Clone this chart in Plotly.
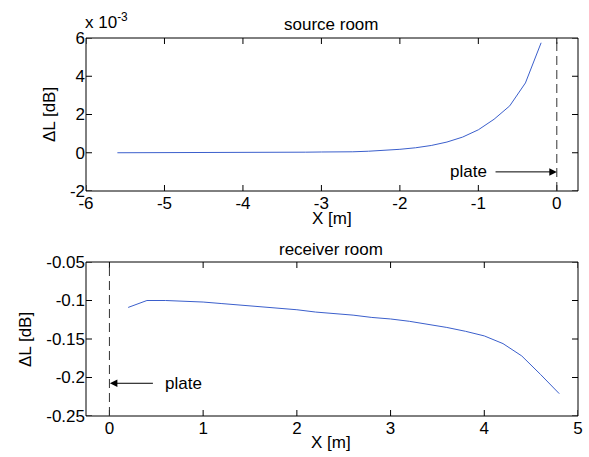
import plotly.graph_objects as go

# source room (x in m, dL in units of 1e-3 dB)
src_x = [-5.6, -5.4, -5.2, -5.0, -4.8, -4.6, -4.4, -4.2, -4.0, -3.8, -3.6, -3.4, -3.2, -3.0,
         -2.8, -2.6, -2.4, -2.2, -2.0, -1.8, -1.6, -1.4, -1.2, -1.0, -0.8, -0.6, -0.4, -0.2]
src_y = [0, 0, 0, 0, 0, 0, 0, 0, 0, 0, 0.0, 0.03, 0.03, 0.04,
         0.04, 0.05, 0.08, 0.12, 0.18, 0.26, 0.38, 0.56, 0.82, 1.2, 1.75, 2.45, 3.65, 5.75]

# receiver room
rec_x = [0.2, 0.4, 0.6, 0.8, 1.0, 1.2, 1.4, 1.6, 1.8, 2.0, 2.2, 2.4, 2.6, 2.8, 3.0,
         3.2, 3.4, 3.6, 3.8, 4.0, 4.2, 4.4, 4.6, 4.8]
rec_y = [-0.109, -0.100, -0.100, -0.101, -0.102, -0.104, -0.106, -0.108, -0.110, -0.112,
         -0.115, -0.117, -0.119, -0.122, -0.124, -0.127, -0.131, -0.135, -0.140, -0.146,
         -0.156, -0.172, -0.196, -0.221]

top_xticks = [-6, -5, -4, -3, -2, -1, 0]
top_xlabels = ["-6", "-5", "-4", "-3", "-2", "-1", "0"]
top_yticks = [-2, 0, 2, 4, 6]
top_ylabels = ["-2", "0", "2", "4", "6"]
bot_xticks = [0, 1, 2, 3, 4, 5]
bot_xlabels = ["0", "1", "2", "3", "4", "5"]
bot_yticks = [-0.25, -0.2, -0.15, -0.1, -0.05]
bot_ylabels = ["-0.25", "-0.2", "-0.15", "-0.1", "-0.05"]

TOP_XR = [-6, 0.27]
TOP_YR = [-2, 6]
BOT_XR = [-0.25, 5]
BOT_YR = [-0.25, -0.05]

W, H = 589, 457
def px_x(p): return p / W
def px_y(p): return 1 - p / H

FONT = "Liberation Sans"
LINE = "#3b5fcc"

fig = go.Figure()
fig.add_trace(go.Scatter(x=src_x, y=src_y, mode="lines", line=dict(color=LINE, width=1),
                         xaxis="x", yaxis="y", showlegend=False, hoverinfo="skip"))
fig.add_trace(go.Scatter(x=rec_x, y=rec_y, mode="lines", line=dict(color=LINE, width=1),
                         xaxis="x2", yaxis="y2", showlegend=False, hoverinfo="skip"))

axcommon = dict(showline=False, ticks="", showgrid=False, zeroline=False,
                tickfont=dict(family=FONT, size=17, color="black"))

XD = [px_x(86), px_x(578)]
TYD = [px_y(191), px_y(38)]
BYD = [px_y(416), px_y(262)]

fig.update_layout(
    template="none",
    width=W, height=H, margin=dict(l=0, r=0, t=0, b=0),
    paper_bgcolor="white", plot_bgcolor="white", showlegend=False,
    font=dict(family=FONT, size=17, color="black"),
    xaxis=dict(domain=XD, range=TOP_XR, tickvals=top_xticks, ticktext=top_xlabels,
               anchor="y", **axcommon),
    yaxis=dict(domain=TYD, range=TOP_YR, tickvals=top_yticks, ticktext=top_ylabels,
               anchor="x", **axcommon),
    xaxis2=dict(domain=XD, range=BOT_XR, tickvals=bot_xticks, ticktext=bot_xlabels,
                anchor="y2", **axcommon),
    yaxis2=dict(domain=BYD, range=BOT_YR, tickvals=bot_yticks, ticktext=bot_ylabels,
                anchor="x2", **axcommon),
)

# frame boxes and inside tick marks (from the axes' own tick arrays)
TICK = 6
plot_w = 492
for xa, ya, xt, yt, ph in (("x", "y", top_xticks, top_yticks, 153),
                           ("x2", "y2", bot_xticks, bot_yticks, 154)):
    fig.add_shape(type="rect", xref=f"{xa} domain", yref=f"{ya} domain",
                  x0=0, x1=1, y0=0, y1=1, line=dict(color="black", width=1))
    fy = TICK / ph
    fx = TICK / plot_w
    for t in xt:
        fig.add_shape(type="line", xref=xa, yref=f"{ya} domain", x0=t, x1=t, y0=0, y1=fy,
                      line=dict(color="black", width=1))
        fig.add_shape(type="line", xref=xa, yref=f"{ya} domain", x0=t, x1=t, y0=1 - fy, y1=1,
                      line=dict(color="black", width=1))
    for t in yt:
        fig.add_shape(type="line", xref=f"{xa} domain", yref=ya, x0=0, x1=fx, y0=t, y1=t,
                      line=dict(color="black", width=1))
        fig.add_shape(type="line", xref=f"{xa} domain", yref=ya, x0=1 - fx, x1=1, y0=t, y1=t,
                      line=dict(color="black", width=1))

# dashed plate lines
fig.add_shape(type="line", xref="x", yref="y", x0=0, x1=0, y0=TOP_YR[0], y1=TOP_YR[1],
              line=dict(color="#333", width=1, dash="9px,5px"))
fig.add_shape(type="line", xref="x2", yref="y2", x0=0, x1=0, y0=BOT_YR[0], y1=BOT_YR[1],
              line=dict(color="#333", width=1, dash="9px,5px"))

ann = []
ann.append(dict(x=0, y=-1.0, xref="x", yref="y", ax=-0.8, ay=-1.0, axref="x", ayref="y",
                showarrow=True, arrowhead=2, arrowsize=1.5, arrowwidth=1, arrowcolor="black", text=""))
ann.append(dict(x=-1.13, y=-1.0, xref="x", yref="y", text="plate", showarrow=False,
                font=dict(size=17), xanchor="center", yanchor="middle"))
ann.append(dict(x=0.005, y=-0.2075, xref="x2", yref="y2", ax=0.48, ay=-0.2075, axref="x2", ayref="y2",
                showarrow=True, arrowhead=2, arrowsize=1.5, arrowwidth=1, arrowcolor="black", text=""))
ann.append(dict(x=0.79, y=-0.2075, xref="x2", yref="y2", text="plate", showarrow=False,
                font=dict(size=17), xanchor="center", yanchor="middle"))
ann.append(dict(x=px_x(331), y=px_y(25), xref="paper", yref="paper", text="source room",
                showarrow=False, font=dict(size=17), xanchor="center", yanchor="middle"))
ann.append(dict(x=px_x(331), y=px_y(249), xref="paper", yref="paper", text="receiver room",
                showarrow=False, font=dict(size=17), xanchor="center", yanchor="middle"))
ann.append(dict(x=px_x(332), y=px_y(218), xref="paper", yref="paper", text="X [m]",
                showarrow=False, font=dict(size=17), xanchor="center", yanchor="middle"))
ann.append(dict(x=px_x(331), y=px_y(442), xref="paper", yref="paper", text="X [m]",
                showarrow=False, font=dict(size=17), xanchor="center", yanchor="middle"))
ann.append(dict(x=px_x(50), y=px_y(115), xref="paper", yref="paper", text="ΔL [dB]",
                showarrow=False, font=dict(size=17), textangle=-90,
                xanchor="center", yanchor="middle"))
ann.append(dict(x=px_x(25), y=px_y(340), xref="paper", yref="paper", text="ΔL [dB]",
                showarrow=False, font=dict(size=17), textangle=-90,
                xanchor="center", yanchor="middle"))
ann.append(dict(x=px_x(83), y=px_y(21), xref="paper", yref="paper",
                text="x 10<sup>-3</sup>", showarrow=False, font=dict(size=17),
                xanchor="left", yanchor="middle"))
fig.update_layout(annotations=ann)

fig.write_html("out.html", post_script="document.body.style.margin='0';",
               config=dict(displayModeBar=False))
